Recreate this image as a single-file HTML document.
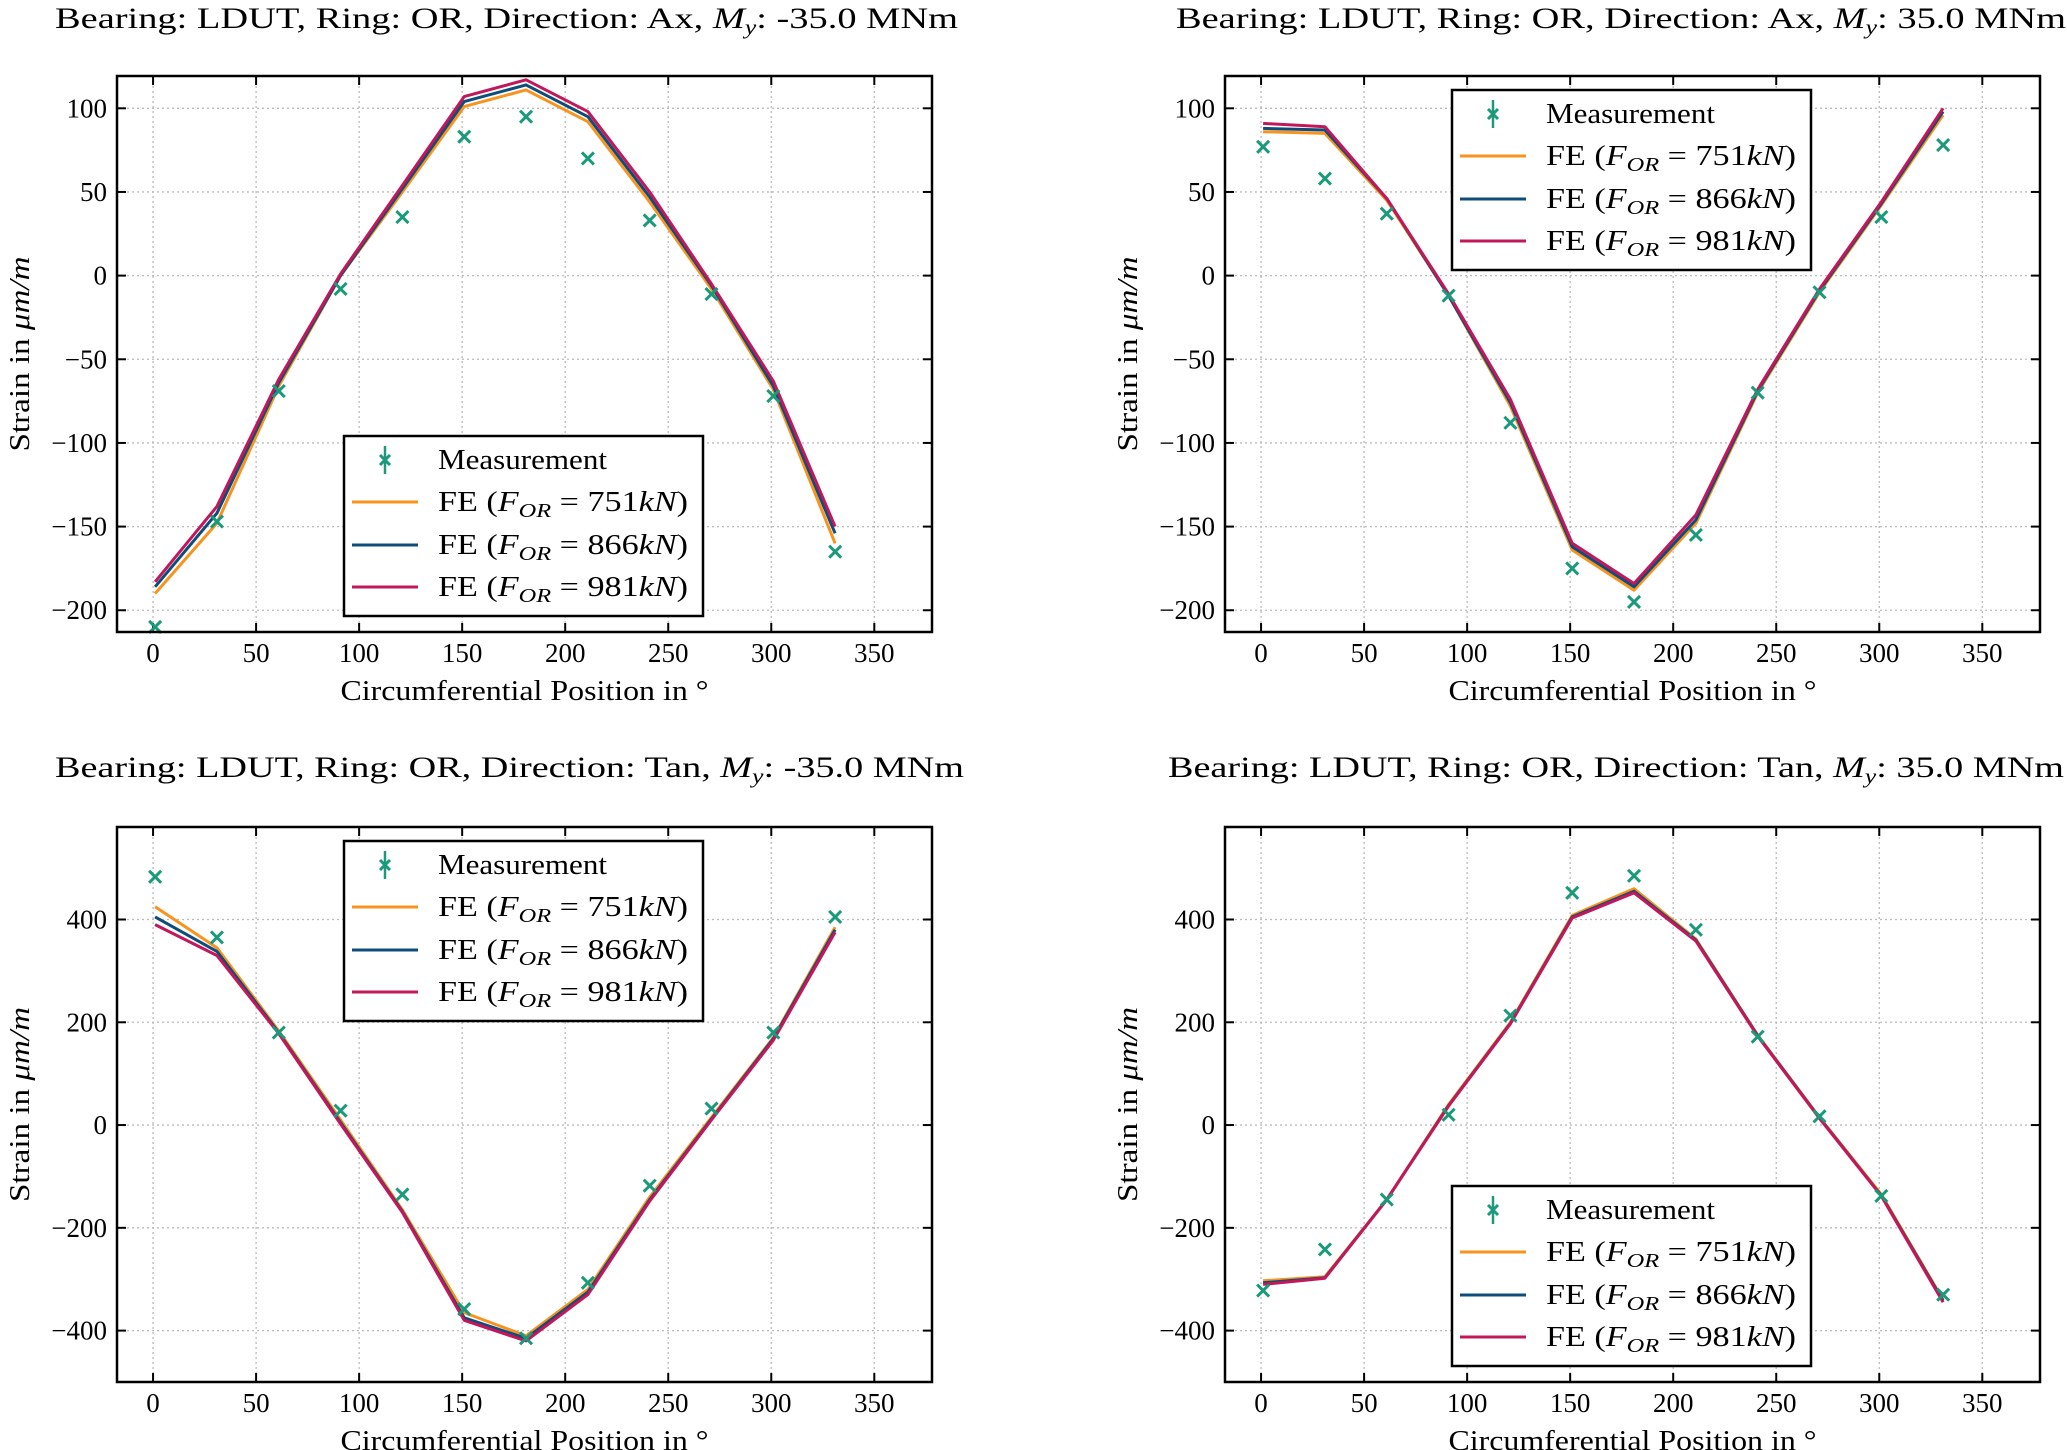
<!DOCTYPE html>
<html><head><meta charset="utf-8"><style>
html,body{margin:0;padding:0;background:#fff;}
svg{display:block;font-family:"Liberation Serif",serif;}
</style></head><body>
<svg id="fig" width="2067" height="1450" viewBox="0 0 2067 1450" xmlns="http://www.w3.org/2000/svg"></svg>
<script>
const positions = [0,30,60,90,120,150,180,210,240,270,300,330];
const xTicks = [0,50,100,150,200,250,300,350];
const axTicks = [-200,-150,-100,-50,0,50,100];
const tanTicks = [-400,-200,0,200,400];
const seriesLabels = ["751","866","981"];

const measTL = [-210,-147,-69,-8,35,83,95,70,33,-11,-72,-165];
const fe751TL = [-190,-148,-66,0,50,101,111,92,44,-8,-68,-160];
const fe866TL = [-186,-142,-64,0,52,104,114,95,47,-6,-66,-154];
const fe981TL = [-183,-138,-62,1,54,107,117,98,50,-5,-63,-150];

const measTR = [77,58,37,-12,-88,-175,-195,-155,-70,-10,35,78];
const fe751TR = [86,85,45,-12,-78,-164,-188,-148,-70,-10,42,96];
const fe866TR = [88,87,46,-12,-76,-162,-186,-146,-69,-9,43,98];
const fe981TR = [91,89,46,-11,-74,-160,-184,-143,-68,-8,44,100];

const measBL = [483,365,180,28,-135,-358,-415,-307,-118,32,180,405];
const fe751BL = [425,345,183,10,-165,-365,-410,-320,-140,15,170,385];
const fe866BL = [405,338,180,5,-168,-375,-415,-325,-145,12,168,380];
const fe981BL = [390,330,178,2,-170,-380,-420,-330,-148,10,165,375];

const measBR = [-322,-242,-145,20,213,452,485,380,172,17,-138,-330];
const fe751BR = [-303,-295,-145,40,200,408,460,362,175,15,-135,-340];
const fe866BR = [-307,-297,-145,38,198,405,455,360,174,14,-137,-342];
const fe981BR = [-310,-298,-145,37,197,403,452,358,173,13,-138,-345];

const NS="http://www.w3.org/2000/svg";
const svg=document.getElementById('fig');
const COLORS=["#f7931e","#0e4d7a","#c2185b"];
const GREEN="#1a9a7a";
function el(tag,attrs,parent,text){const e=document.createElementNS(NS,tag);for(const k in attrs)e.setAttribute(k,attrs[k]);if(text!==undefined)e.textContent=text;(parent||svg).appendChild(e);return e;}
function fmt(v){return v<0?"\u2212"+Math.abs(v):String(v);}

function panel(cfg){
  const g=el('g',{},svg);
  
  
  const L=cfg.left,R=cfg.left+815,T=cfg.top,B=cfg.bottom;
  const xs=v=>L+(v-(-17.5))/(378-(-17.5))*(R-L);
  const ys=v=>B-(v-cfg.ymin)/(cfg.ymax-cfg.ymin)*(B-T);
  xTicks.forEach(t=>{const l=el('line',{x1:xs(t),x2:xs(t),y1:T,y2:B,stroke:"#bbb","stroke-width":1.3,"stroke-dasharray":"2,3"},g);});
  cfg.yticks.forEach(t=>{const l=el('line',{x1:L,x2:R,y1:ys(t),y2:ys(t),stroke:"#bbb","stroke-width":1.3,"stroke-dasharray":"2,3"},g);});
  xTicks.forEach(t=>{
    el('line',{x1:xs(t),x2:xs(t),y1:B,y2:B-9,stroke:"#000","stroke-width":2},g);
    el('line',{x1:xs(t),x2:xs(t),y1:T,y2:T+9,stroke:"#000","stroke-width":2},g);
    const tx=el('text',{x:xs(t),y:B+30,"font-size":27,"text-anchor":"middle"},g,String(t));
    
  });
  cfg.yticks.forEach(t=>{
    el('line',{x1:L,x2:L+9,y1:ys(t),y2:ys(t),stroke:"#000","stroke-width":2},g);
    el('line',{x1:R,x2:R-9,y1:ys(t),y2:ys(t),stroke:"#000","stroke-width":2},g);
    const ty=el('text',{x:L-10,y:ys(t)+9,"font-size":27,"text-anchor":"end"},g,fmt(t));
    
  });
  cfg.fe.forEach((arr,i)=>{
    const pts=arr.map((v,j)=>xs(positions[j]+1).toFixed(1)+","+ys(v).toFixed(1)).join(" ");
    const p=el('polyline',{points:pts,fill:"none",stroke:COLORS[i],"stroke-width":3,"stroke-linejoin":"round"},g);
    
    
  });
  cfg.meas.forEach((v,j)=>{
    const cx=xs(positions[j]+1),cy=ys(v),d=6;
    const m=el('path',{d:`M${cx-d},${cy-d}L${cx+d},${cy+d}M${cx-d},${cy+d}L${cx+d},${cy-d}`,stroke:GREEN,"stroke-width":3,fill:"none"},g);
    
    
  });
  const fr=el('rect',{x:L,y:T,width:R-L,height:B-T,fill:"none",stroke:"#000","stroke-width":2.5},g);
  
  const tt=el('text',{x:cfg.titleX,y:cfg.titleY,"font-size":30,"text-anchor":"start",textLength:cfg.titleLen,lengthAdjust:"spacingAndGlyphs"},g);
  
  el('tspan',{},tt,cfg.titleA);
  el('tspan',{"font-style":"italic"},tt,"M");
  el('tspan',{"font-style":"italic","font-size":20,dy:6},tt,"y");
  el('tspan',{dy:-6},tt,cfg.titleB);
  const xl=el('text',{x:(L+R)/2,y:B+68,"font-size":28,"text-anchor":"middle",textLength:368,lengthAdjust:"spacingAndGlyphs"},g,"Circumferential Position in \u00B0");
  
  const yx=cfg.left-88, ym=(T+B)/2;
  const yl=el('text',{x:yx,y:ym,"font-size":28,"text-anchor":"middle",transform:`rotate(-90 ${yx} ${ym})`,textLength:195,lengthAdjust:"spacingAndGlyphs"},g);
  
  el('tspan',{},yl,"Strain in ");
  el('tspan',{"font-style":"italic"},yl,"\u03BCm/m");
  const lg=el('g',{},g);
  
  const lx=cfg.legX,ly=cfg.legY;
  el('rect',{x:lx,y:ly,width:359,height:180,fill:"#fff",stroke:"#000","stroke-width":2.5},lg);
  const rows=[24,66,109,151];
  const e0=el('g',{},lg);
  const mx=lx+41,my=ly+rows[0];
  el('line',{x1:mx,x2:mx,y1:my-14,y2:my+14,stroke:GREEN,"stroke-width":2.5},e0);
  el('path',{d:`M${mx-5},${my-5}L${mx+5},${my+5}M${mx-5},${my+5}L${mx+5},${my-5}`,stroke:GREEN,"stroke-width":3},e0);
  el('text',{x:lx+94,y:my+9,"font-size":28,textLength:169,lengthAdjust:"spacingAndGlyphs"},e0,"Measurement");
  seriesLabels.forEach((s,i)=>{
    const e=el('g',{},lg);
    
    
    const yy=ly+rows[i+1];
    el('line',{x1:lx+8,x2:lx+74,y1:yy,y2:yy,stroke:COLORS[i],"stroke-width":3},e);
    const t=el('text',{x:lx+94,y:yy+9,"font-size":28,textLength:250,lengthAdjust:"spacingAndGlyphs"},e);
    el('tspan',{},t,"FE (");
    el('tspan',{"font-style":"italic"},t,"F");
    el('tspan',{"font-style":"italic","font-size":20,dy:6},t,"OR");
    el('tspan',{dy:-6},t," = "+s);
    el('tspan',{"font-style":"italic"},t,"kN");
    el('tspan',{},t,")");
  });
}

panel({name:'panel-ax-neg',left:117,top:76,bottom:632,ymin:-213,ymax:119.3,yticks:axTicks,meas:measTL,fe:[fe751TL,fe866TL,fe981TL],legX:344,legY:436,titleX:55,titleY:28,titleLen:903,titleA:"Bearing: LDUT, Ring: OR, Direction: Ax, ",titleB:": -35.0 MNm"});
panel({name:'panel-ax-pos',left:1225,top:76,bottom:632,ymin:-213,ymax:119.3,yticks:axTicks,meas:measTR,fe:[fe751TR,fe866TR,fe981TR],legX:1452,legY:90,titleX:1176,titleY:28,titleLen:890,titleA:"Bearing: LDUT, Ring: OR, Direction: Ax, ",titleB:": 35.0 MNm"});
panel({name:'panel-tan-neg',left:117,top:827,bottom:1382,ymin:-500,ymax:580,yticks:tanTicks,meas:measBL,fe:[fe751BL,fe866BL,fe981BL],legX:344,legY:841,titleX:55,titleY:777,titleLen:909,titleA:"Bearing: LDUT, Ring: OR, Direction: Tan, ",titleB:": -35.0 MNm"});
panel({name:'panel-tan-pos',left:1225,top:827,bottom:1382,ymin:-500,ymax:580,yticks:tanTicks,meas:measBR,fe:[fe751BR,fe866BR,fe981BR],legX:1452,legY:1186,titleX:1168,titleY:777,titleLen:896,titleA:"Bearing: LDUT, Ring: OR, Direction: Tan, ",titleB:": 35.0 MNm"});
</script>
</body></html>
